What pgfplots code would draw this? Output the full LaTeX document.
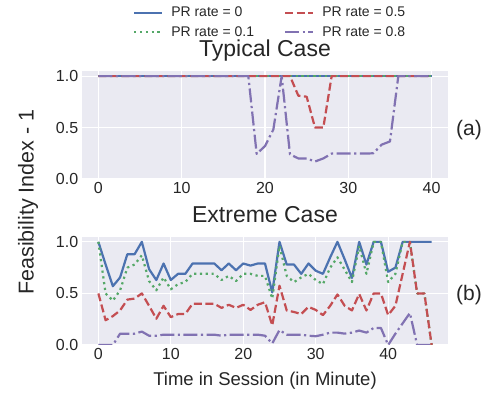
\documentclass[border=0pt]{standalone}
\usepackage{pgfplots}
\pgfplotsset{compat=1.18}
\usepackage{fontspec}
\setmainfont{Liberation Sans}
\definecolor{sbblue}{HTML}{4C72B0}
\definecolor{sbgreen}{HTML}{55A868}
\definecolor{sbred}{HTML}{C44E52}
\definecolor{sbpurple}{HTML}{8172B2}
\definecolor{sbbg}{HTML}{EAEAF2}
\definecolor{sbtext}{HTML}{262626}

\pgfplotsset{
  sbaxis/.style={
    scale only axis,
    width=366.6pt,
    axis background/.style={fill=sbbg},
    axis line style={draw=none},
    grid=major,
    major grid style={white, line width=1.1pt},
    tick style={draw=none},
    ymin=0, ymax=1.05,
    ytick={0,0.5,1},
    xtick={0,10,20,30,40},
    yticklabel style={/pgf/number format/.cd,fixed,fixed zerofill,precision=1},
    /pgf/number format/assume math mode=true,
    tick label style={font=\fontsize{16}{19}\selectfont, text=sbtext},
    every axis plot/.append style={line width=2.2pt, line join=round},
  },
  pr0/.style={sbblue, solid},
  pr1/.style={sbgreen, dash pattern=on 2.2pt off 3.6pt},
  pr5/.style={sbred, dash pattern=on 8pt off 3.5pt},
  pr8/.style={sbpurple, dash pattern=on 14pt off 3.5pt on 2.2pt off 3.5pt},
}

\pgfplotstableread{
x b g r p
0 1 1 1 1
1 1 1 1 1
2 1 1 1 1
3 1 1 1 1
4 1 1 1 1
5 1 1 1 1
6 1 1 1 1
7 1 1 1 1
8 1 1 1 1
9 1 1 1 1
10 1 1 1 1
11 1 1 1 1
12 1 1 1 1
13 1 1 1 1
14 1 1 1 1
15 1 1 1 1
16 1 1 1 1
17 1 1 1 1
18 1 1 1 1
19 1 1 1 0.244
20 1 1 1 0.32
21 1 1 1 0.48
22 1 1 1 1
23 1 1 1 0.24
24 1 1 0.81 0.2
25 1 1 0.8 0.2
26 1 1 0.5 0.17
27 1 1 0.5 0.2
28 1 1 1 0.247
29 1 1 1 0.247
30 1 1 1 0.247
31 1 1 1 0.247
32 1 1 1 0.247
33 1 1 1 0.25
34 1 1 1 0.334
35 1 1 1 0.365
36 1 1 1 1
37 1 1 1 1
38 1 1 1 1
39 1 1 1 1
40 1 1 1 1
}\typical

\pgfplotstableread{
x b g r p
0 1.0 1.0 0.5 0
1 0.78 0.5 0.24 0
2 0.57 0.43 0.28 0
3 0.655 0.53 0.335 0.11
4 0.88 0.75 0.44 0.11
5 0.88 0.78 0.45 0.11
6 1.0 0.87 0.5 0.13
7 0.735 0.62 0.38 0.09
8 0.63 0.53 0.255 0.09
9 0.79 0.655 0.38 0.1
10 0.63 0.54 0.27 0.1
11 0.69 0.59 0.3 0.1
12 0.69 0.61 0.3 0.1
13 0.79 0.69 0.4 0.1
14 0.79 0.69 0.4 0.1
15 0.79 0.69 0.4 0.1
16 0.79 0.69 0.4 0.1
17 0.725 0.63 0.36 0.09
18 0.79 0.67 0.39 0.1
19 0.725 0.62 0.36 0.1
20 0.79 0.69 0.39 0.1
21 0.77 0.69 0.34 0.1
22 0.79 0.67 0.39 0.1
23 0.79 0.67 0.415 0.09
24 0.51 0.45 0.19 0.015
25 1.0 0.96 0.575 0.145
26 0.78 0.67 0.335 0.1
27 0.78 0.61 0.32 0.1
28 0.69 0.655 0.30 0.1
29 0.79 0.69 0.37 0.09
30 0.72 0.63 0.34 0.085
31 0.69 0.59 0.29 0.1
32 0.85 0.75 0.38 0.12
33 1.0 0.85 0.49 0.12
34 0.83 0.73 0.38 0.11
35 0.65 0.61 0.335 0.12
36 1.0 0.96 0.495 0.14
37 0.78 0.69 0.335 0.12
38 1.0 1.0 0.5 0.165
39 1.0 1.0 0.5 0.165
40 0.71 0.61 0.29 0
41 0.75 0.69 0.38 0.11
42 1.0 1.0 0.69 0.21
43 1.0 1.0 1.0 0.31
44 1.0 0.5 0.5 0
45 1.0 0.5 0.5 0
46 1.0 0 0 0
}\extreme

\begin{document}
\begin{tikzpicture}
\path[use as bounding box] (0pt,0pt) rectangle (488pt,396pt);

\begin{axis}[sbaxis,
  at={(81.7pt,217pt)}, anchor=south west, height=108pt,
  xmin=-2, xmax=42,
  title={Typical Case},
  title style={at={(0.5,1.081)}, anchor=base, font=\fontsize{23}{26}\selectfont, text=sbtext},
  legend columns=2,
  legend cell align=left,
  legend style={at={(0.514,1.45)}, anchor=center, draw=none, fill=none,
    font=\fontsize{14}{16}\selectfont, text=sbtext, row sep=4pt,
    /tikz/every odd column/.append style={column sep=6pt},
    /tikz/every even column/.append style={column sep=28pt}},
  legend image code/.code={\draw[#1, line width=2.2pt] (0pt,0pt) -- (28pt,0pt);},
]
\addplot[pr0, forget plot] table[x=x,y=b] {\typical};
\addplot[pr1, forget plot] table[x=x,y=g] {\typical};
\addplot[pr5, forget plot] table[x=x,y=r] {\typical};
\addplot[pr8, forget plot] table[x=x,y=p] {\typical};
\addlegendimage{pr0}
\addlegendentry{PR rate = 0}
\addlegendimage{pr5}
\addlegendentry{PR rate = 0.5}
\addlegendimage{pr1}
\addlegendentry{PR rate = 0.1}
\addlegendimage{pr8}
\addlegendentry{PR rate = 0.8}
\end{axis}

\begin{axis}[sbaxis,
  at={(81.7pt,51pt)}, anchor=south west, height=108.3pt,
  xmin=-2.3, xmax=48.3,
  title={Extreme Case},
  title style={at={(0.5,1.08)}, anchor=base, font=\fontsize{23}{26}\selectfont, text=sbtext},
]
\addplot[pr0] table[x=x,y=b] {\extreme};
\addplot[pr1] table[x=x,y=g] {\extreme};
\addplot[pr5] table[x=x,y=r] {\extreme};
\addplot[pr8] table[x=x,y=p] {\extreme};
\end{axis}

\node[text=sbtext, font=\fontsize{21.5}{26}\selectfont, rotate=90] at (28pt,194pt) {Feasibility Index - 1};
\node[text=sbtext, font=\fontsize{18.5}{21}\selectfont] at (265pt,15pt) {Time in Session (in Minute)};
\node[text=sbtext, font=\fontsize{21}{24}\selectfont] at (469pt,266pt) {(a)};
\node[text=sbtext, font=\fontsize{21}{24}\selectfont] at (469pt,101pt) {(b)};
\end{tikzpicture}
\end{document}
